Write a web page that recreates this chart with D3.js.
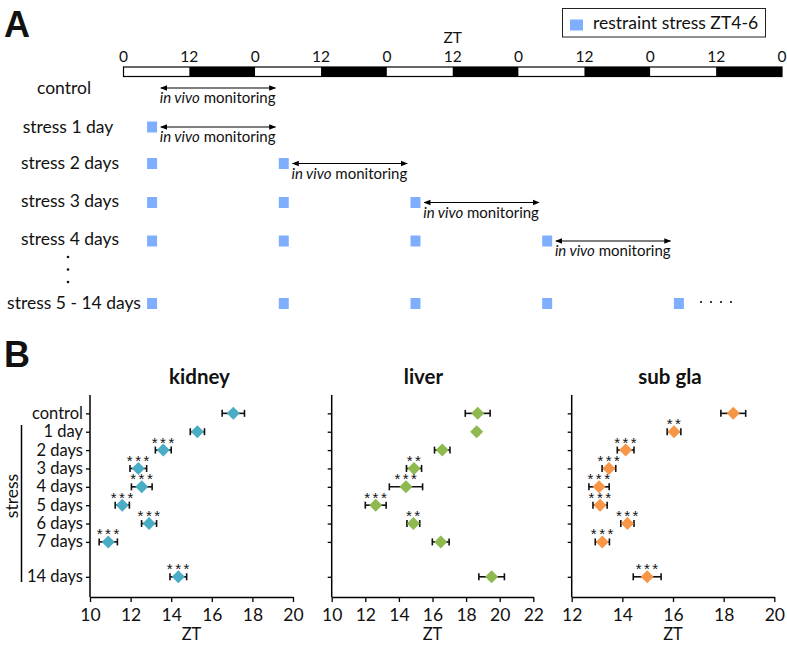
<!DOCTYPE html>
<html><head><meta charset="utf-8">
<script src="https://cdn.jsdelivr.net/npm/d3@7"></script>
<style>body{margin:0;background:#fff}svg{display:block}text{font-family:Lato,"Open Sans",sans-serif;fill:#111}</style>
</head><body><svg id="c" width="787" height="645"></svg>
<script>
// ---------- Panel A data ----------
const halfDayLabels = ["0","12","0","12","0","12","0","12","0","12","0"];
const halfDayHours = [0,12,24,36,48,60,72,84,96,108,120];
const rowLabels = ["control","stress 1 day","stress 2 days","stress 3 days","stress 4 days","stress 5 - 14 days"];
const stressDaysShown = [0,1,2,3,4,5];
const stressStartHour = 4, stressEndHour = 6;
const monitorStart = [6.8, 6.8, 30.8, 54.8, 78.8, null];
const monitorEnd = [27.7, 27.7, 51.7, 75.7, 99.7, null];
const legendLabel = "restraint stress ZT4-6";

// ---------- Panel B data ----------
const categories = ["control","1 day","2 days","3 days","4 days","5 days","6 days","7 days","14 days"];
const catPos = [0,1,2,3,4,5,6,7,8.9];
const kidneyVal = [17.06,15.29,13.61,12.38,12.55,11.59,12.91,10.90,14.35];
const kidneyErr = [0.55,0.35,0.39,0.41,0.51,0.35,0.37,0.45,0.41];
const kidneySig = ["","","***","***","***","***","***","***","***"];
const liverVal = [18.69,18.63,16.58,14.90,14.42,12.62,14.86,16.49,19.52];
const liverErr = [0.74,0.12,0.46,0.45,0.99,0.62,0.38,0.50,0.76];
const liverSig = ["","","","**","***","***","**","",""];
const subVal = [18.38,16.04,14.13,13.47,13.08,13.12,14.20,13.21,14.98];
const subErr = [0.49,0.27,0.33,0.27,0.40,0.28,0.26,0.28,0.55];
const subSig = ["","**","***","***","***","***","***","***","***"];
const kidneyTicks = [10,12,14,16,18,20];
const liverTicks = [10,12,14,16,18,20,22];
const subTicks = [12,14,16,18,20];

const svg = d3.select("#c");

// ===== Panel A =====
svg.append("text").attr("x",4).attr("y",37).attr("font-size",36).attr("font-weight","bold")
  .style("font-family","Liberation Sans,Arial,sans-serif").text("A");

const xh = d3.scaleLinear().domain([0,120]).range([123.5,782]);
const barY = 67, barH = 9.5;
const g = svg.append("g");
const segs = d3.range(10).map(i=>({s:halfDayHours[i], e:halfDayHours[i+1], dark:i%2===1}));
g.selectAll("rect.seg").data(segs).join("rect")
  .attr("x",d=>xh(d.s)).attr("y",barY).attr("width",d=>xh(d.e)-xh(d.s)).attr("height",barH)
  .attr("fill",d=>d.dark?"#000":"#fff");
g.append("rect").attr("x",xh(0)).attr("y",barY).attr("width",xh(120)-xh(0)).attr("height",barH)
  .attr("fill","none").attr("stroke","#000").attr("stroke-width",1.2);
g.selectAll("text.hl").data(halfDayLabels).join("text")
  .attr("x",(d,i)=>xh(halfDayHours[i])).attr("y",62).attr("text-anchor","middle").attr("font-size",15.5).text(d=>d);
g.append("text").attr("x",xh(60)).attr("y",43).attr("text-anchor","middle").attr("font-size",15.5).text("ZT");

// legend
svg.append("rect").attr("x",562.5).attr("y",8.5).attr("width",203).attr("height",28.5)
  .attr("fill","#fff").attr("stroke","#222").attr("stroke-width",1);
svg.append("rect").attr("x",570).attr("y",19.5).attr("width",13).attr("height",11).attr("fill","#80AEFF");
svg.append("text").attr("x",593).attr("y",29).attr("font-size",17.5).text(legendLabel);

// rows
const rowY = [88,127,163.5,202.5,241,303.5];
const rowTextY = [94,132.5,169,207,245,309];
const rowCx = [64,68,70,70,70,74];
svg.append("defs").append("marker").attr("id","ah").attr("viewBox","0 0 10 10").attr("refX",9).attr("refY",5)
  .attr("markerWidth",7).attr("markerHeight",7).attr("orient","auto-start-reverse")
  .attr("markerUnits","userSpaceOnUse")
  .append("path").attr("d","M0,1 L10,5 L0,9 Z").attr("fill","#000");

rowLabels.forEach((lab,r)=>{
  svg.append("text").attr("x",rowCx[r]).attr("y",rowTextY[r]).attr("text-anchor","middle")
    .attr("font-size",17.5).text(lab);
  for(let d=0; d<stressDaysShown[r]; d++){
    svg.append("rect").attr("x",xh(d*24+stressStartHour+0.3)).attr("y",rowY[r]-5.5)
      .attr("width",xh(stressEndHour)-xh(stressStartHour)-1).attr("height",11).attr("fill","#80AEFF");
  }
  if(monitorStart[r]!==null){
    const ay = rowY[r];
    svg.append("line").attr("x1",xh(monitorStart[r])).attr("x2",xh(monitorEnd[r]))
      .attr("y1",ay).attr("y2",ay).attr("stroke","#000").attr("stroke-width",1.2)
      .attr("marker-start","url(#ah)").attr("marker-end","url(#ah)");
    const t = svg.append("text").attr("x",xh(monitorStart[r])-1).attr("y",ay+15).attr("font-size",15);
    t.append("tspan").attr("font-style","italic").text("in vivo");
    t.append("tspan").text(" monitoring");
  }
});
[257,269.5,282].forEach(y=>svg.append("circle").attr("cx",68).attr("cy",y).attr("r",1.3).attr("fill","#111"));
[701,711,721,731].forEach(x=>svg.append("circle").attr("cx",x).attr("cy",302).attr("r",1.1).attr("fill","#111"));

// ===== Panel B =====
svg.append("text").attr("x",4).attr("y",367).attr("font-size",36).attr("font-weight","bold")
  .style("font-family","Liberation Sans,Arial,sans-serif").text("B");

const y = d3.scaleLinear().domain([-1,10]).range([395,597]);

const panels = [
  {title:"kidney", x0:90, x1:293, ticks:kidneyTicks, vals:kidneyVal, errs:kidneyErr, sig:kidneySig, color:"#4BACC6", labels:true, dx:8},
  {title:"liver", x0:331.7, x1:533.3, ticks:liverTicks, vals:liverVal, errs:liverErr, sig:liverSig, color:"#8DB94E", labels:false, dx:-9},
  {title:"sub gla", x0:571.7, x1:774.3, ticks:subTicks, vals:subVal, errs:subErr, sig:subSig, color:"#F79646", labels:false, dx:-3}
];

panels.forEach(p=>{
  const x = d3.scaleLinear().domain([p.ticks[0], p.ticks[p.ticks.length-1]]).range([p.x0,p.x1]);
  const pg = svg.append("g");
  const xa = pg.append("g").attr("transform",`translate(0,${y(10)})`)
    .call(d3.axisBottom(x).tickValues(p.ticks).tickSize(5).tickSizeOuter(0).tickFormat(d3.format("d")));
  xa.select(".domain").attr("stroke","#000").attr("stroke-width",1.5);
  xa.selectAll(".tick line").attr("stroke","#000").attr("stroke-width",1.3);
  xa.selectAll(".tick text").attr("font-size",17.5).attr("dy","0.92em").style("font-family","Lato,sans-serif").attr("fill","#111");
  const ya = pg.append("g").attr("transform",`translate(${p.x0},0)`)
    .call(d3.axisLeft(y).tickValues(catPos).tickSize(4).tickSizeOuter(0).tickFormat(""));
  ya.select(".domain").attr("stroke","#000").attr("stroke-width",1.5).attr("d",`M0,${y(-1)}V${y(10)}`);
  ya.selectAll(".tick line").attr("stroke","#000").attr("stroke-width",1.3);
  pg.append("text").attr("x",(p.x0+p.x1)/2).attr("y",640).attr("text-anchor","middle").attr("font-size",16.5).text("ZT");
  pg.append("text").attr("x",(p.x0+p.x1)/2+p.dx).attr("y",384)
    .attr("text-anchor","middle").attr("font-size",20.5).attr("font-weight","bold").text(p.title);
  if(p.labels){
    pg.selectAll("text.cat").data(categories).join("text")
      .attr("x",p.x0-7).attr("y",(d,i)=>y(catPos[i])+5.5).attr("text-anchor","end").attr("font-size",16.5).text(d=>d);
  }
  const data = p.vals.map((v,i)=>({v, e:p.errs[i], s:p.sig[i], yy:y(catPos[i])}));
  data.forEach(d=>{
    const a = x(d.v-d.e), b = x(d.v+d.e);
    pg.append("line").attr("x1",a).attr("x2",b).attr("y1",d.yy).attr("y2",d.yy).attr("stroke","#111").attr("stroke-width",1.6);
    [a,b].forEach(xx=>pg.append("line").attr("x1",xx).attr("x2",xx).attr("y1",d.yy-3.5).attr("y2",d.yy+3.5).attr("stroke","#111").attr("stroke-width",1.6));
  });
  pg.selectAll("path.dm").data(data).join("path")
    .attr("d",d=>{const cx=x(d.v), cy=d.yy, r=6.5; return `M${cx},${cy-r}L${cx+r},${cy}L${cx},${cy+r}L${cx-r},${cy}Z`;})
    .attr("fill",p.color);
  pg.selectAll("text.sig").data(data.filter(d=>d.s)).join("text")
    .attr("x",d=>x(d.v)+1).attr("y",d=>d.yy-2.5).attr("text-anchor","middle").attr("font-size",15)
    .attr("letter-spacing",2.5).attr("fill","#333").style("font-family","Liberation Sans,Arial,sans-serif").text(d=>d.s);
});

svg.append("line").attr("x1",21.5).attr("x2",21.5).attr("y1",425).attr("y2",582).attr("stroke","#000").attr("stroke-width",1.5);
svg.append("text").attr("transform","translate(17.5,496) rotate(-90)").attr("text-anchor","middle").attr("font-size",17.5).text("stress");
</script></body></html>
